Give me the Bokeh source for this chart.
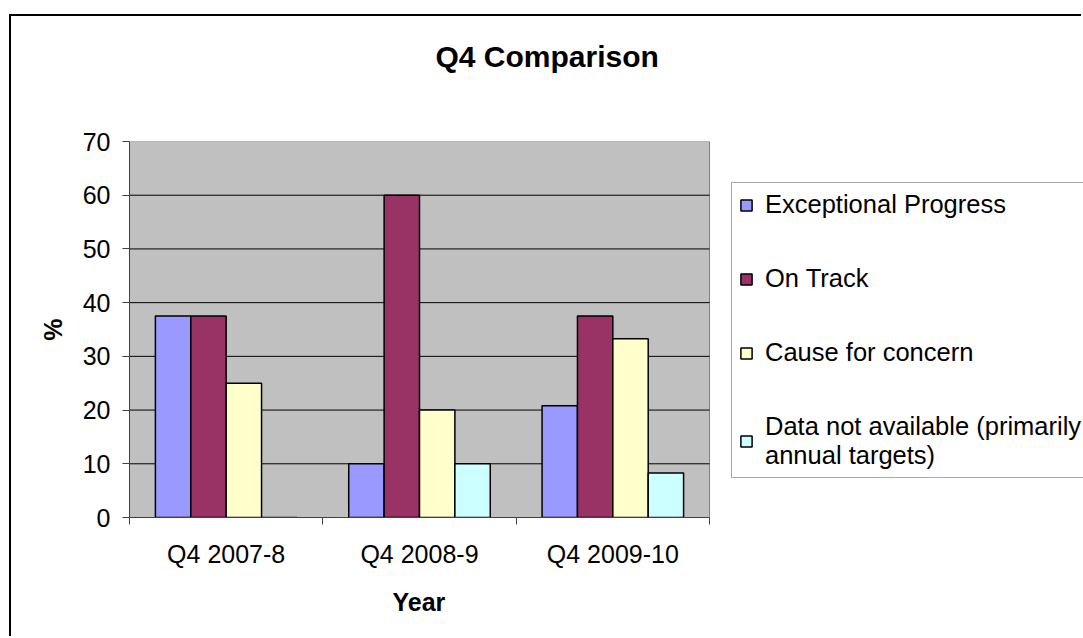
from bokeh.plotting import figure
from bokeh.models import FixedTicker, Legend, LegendItem, Range1d, ColumnDataSource, Title
from bokeh.transform import dodge
from bokeh.embed import file_html
from bokeh.resources import INLINE

years = ["Q4 2007-8", "Q4 2008-9", "Q4 2009-10"]
year_pos = [0.5, 1.5, 2.5]
series_names = ["Exceptional Progress", "On Track", "Cause for concern",
                "Data not available (primarily\nannual targets)"]
exceptional = [37.5, 10, 20.8]
on_track = [37.5, 60, 37.5]
concern = [25, 20, 33.3]
not_available = [0, 10, 8.3]
colors = ["#9999FF", "#993366", "#FFFFCC", "#CCFFFF"]
y_ticks = [0, 10, 20, 30, 40, 50, 60, 70]
x_bounds = (0, 3)
y_bounds = (0, 70)

FONT = "Liberation Sans"

# layout (pixels): frame extends right to hold the legend
W, H = 1072, 622
LEFT, TOP, BOTTOM = 118, 125, 121
AREA_W = 580
FRAME_W = W - LEFT

src = ColumnDataSource(dict(x=year_pos, ep=exceptional, ot=on_track,
                            cc=concern, na=not_available))

p = figure(width=W, height=H,
           x_range=Range1d(0, x_bounds[1] * FRAME_W / AREA_W),
           y_range=Range1d(*y_bounds),
           output_backend="svg", toolbar_location=None,
           min_border_left=LEFT, min_border_right=0, min_border_top=TOP,
           min_border_bottom=BOTTOM)
p.styles = {"margin-left": "9px", "margin-top": "14px",
            "border-left": "2px solid black", "border-top": "2px solid black"}

p.background_fill_color = "white"
p.border_fill_color = "white"
p.outline_line_color = None
p.xgrid.visible = False
p.ygrid.visible = False

# plot area background and grid
bg = p.quad(left=[x_bounds[0]], right=[x_bounds[1]], bottom=[y_bounds[0]], top=[y_bounds[1]],
            fill_color="#C0C0C0", line_color="#808080", line_width=1)
bg.level = "image"
grid = p.segment(x0=[x_bounds[0]] * (len(y_ticks) - 2), x1=[x_bounds[1]] * (len(y_ticks) - 2),
                 y0=y_ticks[1:-1], y1=y_ticks[1:-1], line_color="black", line_width=1)
grid.level = "image"

bw = 0.183
offs = [-1.5 * bw, -0.5 * bw, 0.5 * bw, 1.5 * bw]
cols = ["ep", "ot", "cc", "na"]
renderers = []
for c, o, col in zip(cols, offs, colors):
    r = p.vbar(x=dodge("x", o, range=p.x_range), top=c, width=bw, bottom=0,
               source=src, fill_color=col, line_color="black", line_width=1.5)
    renderers.append(r)

# y axis
p.yaxis.bounds = y_bounds
p.yaxis.ticker = FixedTicker(ticks=y_ticks)
p.yaxis.minor_tick_line_color = None
p.yaxis.major_tick_in = 0
p.yaxis.major_tick_out = 7
p.yaxis.major_tick_line_color = "#404040"
p.yaxis.axis_line_color = "#404040"
p.yaxis.major_label_text_font = FONT
p.yaxis.major_label_text_font_size = "25px"
p.yaxis.major_label_text_color = "black"
p.yaxis.major_label_standoff = 12
p.yaxis.axis_label = "%"
p.yaxis.axis_label_text_font = FONT
p.yaxis.axis_label_text_font_size = "25px"
p.yaxis.axis_label_text_font_style = "bold"
p.yaxis.axis_label_text_color = "black"
p.yaxis.axis_label_standoff = 13

# x axis
p.xaxis.bounds = x_bounds
p.xaxis.ticker = FixedTicker(ticks=year_pos, minor_ticks=[0, 1, 2, 3])
p.xaxis.major_label_overrides = {v: t for v, t in zip(year_pos, years)}
p.xaxis.major_tick_line_color = None
p.xaxis.major_tick_in = 0
p.xaxis.major_tick_out = 0
p.xaxis.minor_tick_in = 0
p.xaxis.minor_tick_out = 7
p.xaxis.minor_tick_line_color = "#404040"
p.xaxis.axis_line_color = "#404040"
p.xaxis.major_label_text_font = FONT
p.xaxis.major_label_text_font_size = "25px"
p.xaxis.major_label_text_color = "black"
p.xaxis.major_label_standoff = 15

# x axis title, placed below the axis, centred under the plot area
year_title = Title(text="Year", text_font=FONT, text_font_size="25px",
                   text_font_style="bold", text_color="black", align="left",
                   offset=263, standoff=30)
p.add_layout(year_title, "below")

# chart title (spacer title nearest the plot, then the real title)
p.title.text = ""
spacer = Title(text=" ", text_font_size="1px", standoff=61)
p.add_layout(spacer, "above")
main_title = Title(text="Q4 Comparison", text_font=FONT, text_font_size="30px",
                   text_font_style="bold", text_color="black", align="left",
                   offset=306, standoff=10)
p.add_layout(main_title, "above")

legend = Legend(items=[LegendItem(label=n, renderers=[r]) for n, r in zip(series_names, renderers)],
                location=(602, 39))
legend.label_text_font = FONT
legend.label_text_font_size = "25.5px"
legend.label_text_color = "black"
legend.glyph_width = 14
legend.glyph_height = 14
legend.label_standoff = 12
legend.spacing = 45
legend.padding = 7
legend.margin = 0
legend.border_line_color = "#555555"
legend.border_line_width = 1
legend.background_fill_color = "white"
legend.background_fill_alpha = 1
p.add_layout(legend)

open("out.html", "w").write(file_html(p, INLINE))
